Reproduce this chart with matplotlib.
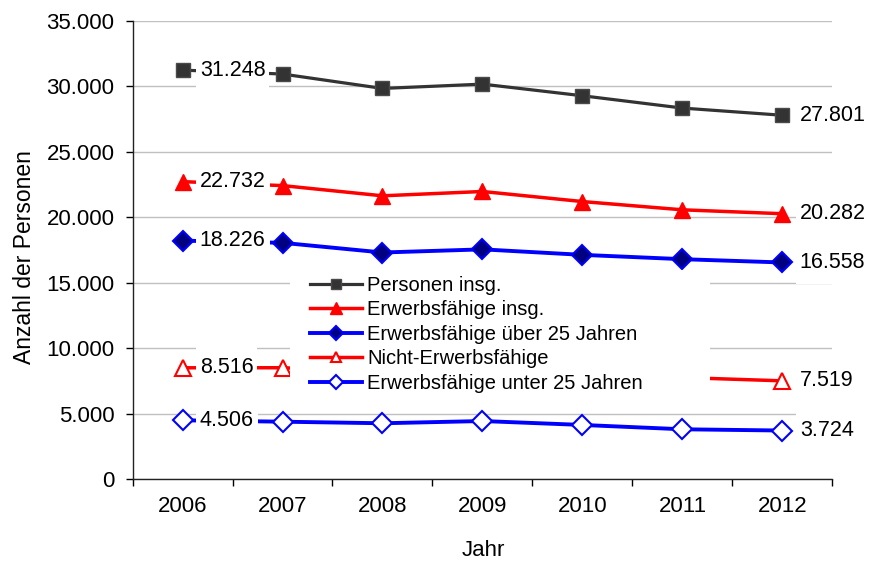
import numpy as np
import matplotlib
matplotlib.use("Agg")
import matplotlib.pyplot as plt
from matplotlib.patches import Rectangle

plt.rcParams['font.family'] = ['Liberation Sans', 'DejaVu Sans']

years = ['2006', '2007', '2008', '2009', '2010', '2011', '2012']
personen = [31248, 30950, 29850, 30180, 29290, 28350, 27801]
erw_insg = [22732, 22430, 21650, 21980, 21210, 20580, 20282]
erw_ueber25 = [18226, 18060, 17320, 17560, 17140, 16810, 16558]
nicht_erw = [8516, 8520, 8200, 8200, 8080, 7770, 7519]
erw_unter25 = [4506, 4400, 4280, 4450, 4150, 3820, 3724]

labels = ['Personen insg.', 'Erwerbsfähige insg.', 'Erwerbsfähige über 25 Jahren',
          'Nicht-Erwerbsfähige', 'Erwerbsfähige unter 25 Jahren']

fig = plt.figure(figsize=(8.7, 5.63), dpi=100)
ax = fig.add_axes([132.5 / 870, 1 - 479.3 / 563, 700 / 870, 458.3 / 563])

x = np.arange(len(years))

series = [
    (personen, dict(color='#333333', marker='s', ms=10.5, mfc='#333333', mec='#4a4a4a', mew=1, lw=2.3)),
    (erw_insg, dict(color='#ff0000', marker='^', ms=12, mfc='#ff0000', mec='#ff0000', mew=1, lw=2.5)),
    (erw_ueber25, dict(color='#0000ff', marker='D', ms=10, mfc='#000080', mec='#0000ff', mew=1.5, lw=2.8)),
    (nicht_erw, dict(color='#ff0000', marker='^', ms=11, mfc='white', mec='#ff0000', mew=1.5, lw=2.5)),
    (erw_unter25, dict(color='#0000ff', marker='D', ms=10, mfc='white', mec='#0000ff', mew=1.5, lw=2.8)),
]

for (vals, st), lab in zip(series, labels):
    ax.plot(x, vals, label=lab, zorder=3, **st)

ax.set_xlim(-0.5, 6.5)
ax.set_ylim(0, 35000)
ax.set_yticks(range(0, 35001, 5000))
ax.set_yticklabels([f"{v:,}".replace(',', '.') for v in range(0, 35001, 5000)])
ax.set_xticks(np.arange(-0.5, 7, 1))
ax.set_xticklabels([])
ax.set_xticks(x, minor=True)
ax.set_xticklabels(years, minor=True)
ax.tick_params(axis='x', which='major', length=5, width=1, direction='out')
ax.tick_params(axis='x', which='minor', length=0, pad=12, labelsize=16)
ax.tick_params(axis='y', length=5, width=1, pad=8, labelsize=16)

ax.yaxis.grid(True, color='#c0c0c0', lw=1)
ax.set_axisbelow(True)
for s in ['top', 'right']:
    ax.spines[s].set_visible(False)
for s in ['left', 'bottom']:
    ax.spines[s].set_color('#222222')
    ax.spines[s].set_linewidth(1)

fig.text(483 / 870, 1 - 550 / 563, 'Jahr', ha='center', va='center', fontsize=16)
fig.text(25 / 870, 1 - 257 / 563, 'Anzahl der Personen', ha='center', va='center',
         rotation=90, fontsize=16.5)

texts = []
for vals, st in series:
    for i in (0, len(years) - 1):
        t = ax.annotate(f"{vals[i]:,}".replace(',', '.'), (x[i], vals[i]),
                        xytext=(12.5, 0), textcoords='offset points',
                        ha='left', va='center', fontsize=15.5, zorder=6)
        texts.append((t, vals[i]))

# legend without frame, white area behind it is wider than the text
leg = ax.legend(loc='upper left', bbox_to_anchor=(310 / 870, 1 - 276 / 563),
                bbox_transform=fig.transFigure, borderaxespad=0, borderpad=0,
                frameon=False, fontsize=14.5, handlelength=2.6, handletextpad=0.25,
                labelspacing=0.27, markerscale=0.7)
leg.set_zorder(7)
ax.add_patch(Rectangle((290 / 870, 1 - 403 / 563), 420 / 870, 133 / 563,
                       transform=fig.transFigure, fc='white', ec='none',
                       zorder=4, clip_on=False))

# white boxes behind the value labels, taller than the text
fig.canvas.draw()
r = fig.canvas.get_renderer()
inv = ax.transData.inverted()
for t, v in texts:
    bb = t.get_window_extent(r)
    cy = ax.transData.transform((0, v))[1]
    (x0, y0) = inv.transform((bb.x0 - 4, cy - 22))
    (x1, y1) = inv.transform((bb.x1 + 4, cy + 22))
    ax.add_patch(Rectangle((x0, y0), x1 - x0, y1 - y0, fc='white', ec='none',
                           zorder=5, clip_on=False))

fig.savefig('out.png', dpi=100)
